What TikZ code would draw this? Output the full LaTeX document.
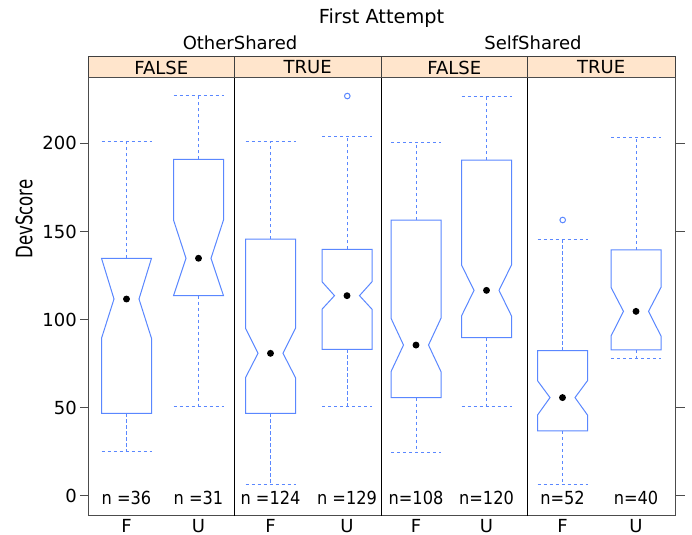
\documentclass[tikz,border=0pt]{standalone}
\usepackage{fontspec}
\setmainfont{DejaVu Sans}
\usetikzlibrary{positioning}
\definecolor{kek}{RGB}{90,135,255}
\definecolor{barack}{HTML}{FFE5CC}
\tikzset{
  doboz/.style={draw=kek,line width=0.75pt,line join=miter},
  bajusz/.style={draw=kek,line width=0.75pt,dash pattern=on 2.5pt off 2pt},
  kozep/.style={circle,fill=black,inner sep=0pt,minimum size=5.2pt},
  kiugro/.style={circle,draw=kek,line width=0.75pt,inner sep=0pt,minimum size=4.2pt},
  keret/.style={draw=black!70,line width=0.75pt},
  valaszto/.style={draw=black,line width=0.75pt},
  csik/.style={fill=barack,draw=black!75,line width=0.75pt},
  jel/.style={draw=black!70,line width=0.75pt},
  felirat/.style={font=\fontsize{13.5}{16}\selectfont,inner sep=0pt},
}

\begin{document}
\begin{tikzpicture}[x=0.75pt,y=0.75pt]
  \useasboundingbox (0,0) rectangle (692,535);
  \node[felirat,font=\fontsize{14.5}{17}\selectfont] (cim) at (381.5,517) {First Attempt};
  \node[felirat] (os) at (240,492) {OtherShared}; \node[felirat] (ss) at (533,492) {SelfShared};
  \node[felirat,font=\fontsize{17}{20}\selectfont,rotate=90] (yl) at (24,316) {\scalebox{0.73}[1]{DevScore}};
  \foreach \a/\b/\s [count=\i] in {88/234.5/FALSE,234.5/381/TRUE,381/527.5/FALSE,527.5/675/TRUE}{
    \draw[csik] (\a,457) rectangle (\b,478);
    \node[felirat] (s\i) at ({(\a+\b)/2},467.5) {\s};
  }
  \draw[keret] (88,19) rectangle (675,457);
  \foreach \a in {234.5,381,527.5} \draw[valaszto] (\a,19) -- (\a,457);
  \begin{scope}[shift={(0,39)},y=1.32263pt]
    \foreach \v in {0,50,...,200}{
      \draw[jel] (80,\v) -- (88,\v);
      \node[felirat,anchor=east] (t\v) at (77,\v) {\v};
    }
    \foreach \v in {0,50,150,200} \draw[jel] (675,\v) -- (685,\v);
    \draw[jel] (644,100) -- (653,100);
    \foreach \x/\wl/\ql/\nl/\md/\nh/\qh/\wh/\g/\nt [count=\i] in {
      126.5/25.1/46.9/89.4/111.7/134.8/134.8/200.9/F/n =36,
      198.5/51.0/113.6/113.6/134.8/156.5/190.9/227.0/U/n =31,
      270.5/6.8/46.9/67.1/80.9/95.1/145.7/200.9/F/n =124,
      347/51.0/83.2/105.9/113.6/121.5/139.9/203.7/U/n =129,
      416/24.8/55.8/70.5/85.6/100.8/156.5/200.5/F/n=108,
      486.5/50.7/89.8/102.1/116.6/131.0/190.5/226.8/U/n=120,
      562.5/6.8/36.9/45.9/55.8/65.4/82.4/145.5/F/n=52,
      636/77.7/82.8/90.7/104.7/118.3/139.5/203.4/U/n=40}{
      \draw[bajusz] (\x,\qh) -- (\x,\wh) (\x-25,\wh) -- (\x+25,\wh);
      \draw[bajusz] (\x,\ql) -- (\x,\wl) (\x-25,\wl) -- (\x+25,\wl);
      \draw[doboz,fill=white] (\x-25,\ql) -- (\x-25,\nl) -- (\x-12.5,\md) -- (\x-25,\nh) -- (\x-25,\qh)
        -- (\x+25,\qh) -- (\x+25,\nh) -- (\x+12.5,\md) -- (\x+25,\nl) -- (\x+25,\ql) -- cycle;
      \node[kozep] (m\i) at (\x,\md) {};
      \node[felirat] (n\i) at (\x,-1.2) {\scalebox{0.9}[1]{\nt}};
      \node[felirat] (g\i) at (\x,-16.8) {\g};
    }
    \node[kiugro] (o1) at (347.3,226.8) {}; \node[kiugro] (o2) at (562.7,156.5) {};
  \end{scope}
\end{tikzpicture}
\end{document}
